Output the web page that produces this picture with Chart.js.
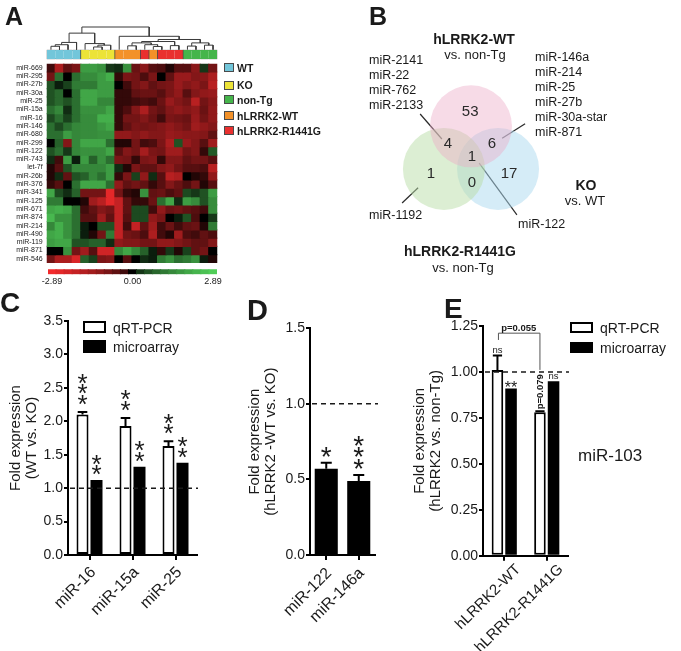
<!DOCTYPE html>
<html><head><meta charset="utf-8"><title>miRNA profiling figure</title>
<script src="https://cdn.jsdelivr.net/npm/chart.js@4.4.1/dist/chart.umd.min.js"></script>
<style>
html,body{margin:0;padding:0;background:#fff}
#fig{position:relative;width:681px;height:651px;overflow:hidden;background:#fff;font-family:"Liberation Sans",Arial,Helvetica,sans-serif;color:#1a1a1a}
#fig canvas{position:absolute;left:0;top:0}
.tx{position:absolute;white-space:nowrap;line-height:1}
.bx{position:absolute;box-sizing:border-box}
</style></head><body>
<div id="fig">
<canvas id="cDendro" width="681" height="651"></canvas>
<canvas id="cGroup" width="681" height="651"></canvas>
<canvas id="cHeat" width="681" height="651"></canvas>
<canvas id="cScale" width="681" height="651"></canvas>
<canvas id="cVenn" width="681" height="651"></canvas>
<canvas id="cC" width="681" height="651"></canvas>
<canvas id="cD" width="681" height="651"></canvas>
<canvas id="cE" width="681" height="651"></canvas>
</div>
<script>
// ---------------- DATA ----------------
// Panel A: heatmap
const heatRows = ['miR-669','miR-295','miR-27b','miR-30a','miR-25','miR-15a','miR-16','miR-146','miR-680','miR-299','miR-122','miR-743','let-7f','miR-26b','miR-376','miR-341','miR-125','miR-671','miR-874','miR-214','miR-490','miR-119','miR-871','miR-546'];
const heatSamples = ['s1','s2','s3','s4','s5','s6','s7','s8','s9','s10','s11','s12','s13','s14','s15','s16','s17','s18','s19','s20'];
const sampleGroups = ['WT','WT','WT','WT','KO','KO','KO','KO','hLRRK2-WT','hLRRK2-WT','hLRRK2-WT','hLRRK2-R1441G','hLRRK2-WT','hLRRK2-R1441G','hLRRK2-R1441G','hLRRK2-R1441G','non-Tg','non-Tg','non-Tg','non-Tg'];
const heatValues = [
 [-0.3,-1.6,-0.6,-0.9, 1.8,1.8,1.6,0.3, 0.2,1.6,-0.7,-1.1, -0.5,-0.4,-0.1,-0.5, -0.5,-1.1,0.3,-0.8],
 [-0.8,1.0,0.0,1.0, 1.5,1.5,1.8,2.2, -0.2,-0.9,-0.8,-0.4, -0.9,0.0,-0.6,-1.3, -1.3,-1.0,-1.1,-1.6],
 [0.6,0.1,0.4,1.2, 1.2,1.2,1.8,1.8, 0.0,-0.3,-0.8,-1.0, -0.6,-0.8,-0.9,-1.3, -1.0,-1.2,-0.9,-1.8],
 [0.6,0.9,0.0,1.0, 2.0,2.0,1.8,1.8, -0.2,-0.2,-0.6,-0.7, -0.7,-0.5,-0.9,-1.2, -0.5,-1.0,-1.2,-1.3],
 [0.6,0.9,0.6,1.0, 2.0,2.0,1.4,1.4, -0.2,-0.2,-0.3,-0.4, -0.3,-0.7,-1.3,-1.0, -0.8,-1.8,-0.8,-1.1],
 [1.0,1.4,0.2,1.0, 1.6,1.6,1.6,2.0, -0.2,-0.4,-1.0,-1.6, -0.8,-0.6,-1.0,-1.2, -1.0,-1.2,-0.7,-1.2],
 [0.5,1.0,0.4,1.0, 1.5,1.5,2.2,2.2, -0.2,-0.8,-0.8,-1.0, -0.7,-0.3,-0.9,-0.8, -0.7,-1.3,-0.8,-1.2],
 [1.0,0.5,1.0,1.4, 1.5,1.5,1.7,2.0, -0.2,-0.6,-0.9,-0.8, -0.9,-1.0,-1.2,-1.0, -0.8,-1.4,-1.2,-1.0],
 [1.0,1.0,1.8,1.4, 1.5,1.5,1.6,1.6, -1.2,-1.2,-1.0,-1.2, -1.0,-1.0,-1.3,-1.2, -1.1,-1.1,-1.0,-0.6],
 [0.0,0.8,-1.0,1.4, 2.0,2.0,2.0,1.0, -0.1,-0.1,-0.8,-0.3, -0.4,-0.9,-1.6,0.6, -1.3,-1.0,-0.5,-1.4],
 [0.6,1.0,0.3,1.4, 1.6,1.6,1.6,2.0, -0.5,-1.0,-0.8,-1.5, -0.9,-0.8,-1.4,-1.4, -0.8,-1.0,-0.2,0.7],
 [0.2,-0.3,1.8,0.1, 1.8,0.8,1.6,1.0, -0.9,-0.8,-0.2,-0.9, -1.0,-0.2,-1.0,-1.0, -0.6,-0.8,-0.8,-0.5],
 [-0.1,-0.5,0.6,1.4, 1.4,1.4,1.4,1.8, 0.2,-0.1,-0.9,-0.6, -0.6,-1.0,-1.2,-0.8, -0.5,-0.5,-0.4,-1.8],
 [-0.1,0.2,-0.6,0.6, 0.8,1.4,1.0,1.8, -0.2,-0.9,0.4,-1.2, 0.2,-0.5,-1.8,-1.6, 0.0,-0.1,-0.2,-1.2],
 [-0.2,-0.5,0.0,1.0, 2.0,2.0,2.0,1.0, -1.2,-0.6,-0.8,-0.6, -0.2,-0.5,-1.0,-0.7, -0.4,-0.8,-0.1,-0.5],
 [2.0,0.5,0.2,0.8, -0.8,-0.8,-0.8,-2.6, -0.8,-0.2,-0.1,1.6, -0.6,-0.7,-0.4,-0.6, 0.5,0.3,0.6,1.8],
 [1.2,1.2,0.0,0.0, -0.1,-1.4,-1.8,-2.6, -2.0,-0.6,-0.2,-0.2, -0.7,1.0,2.0,0.2, 1.8,1.5,0.6,1.5],
 [2.0,2.2,2.0,1.0, -0.3,-0.6,-1.0,-0.8, -2.0,-0.6,0.5,0.5, -0.3,-1.2,-0.7,-0.8, -0.6,-0.5,-0.3,1.5],
 [2.4,1.6,1.6,1.0, -0.5,-0.5,-1.4,-0.6, -2.0,-0.5,0.5,0.5, -1.2,-0.9,0.0,0.1, 0.6,-0.4,0.0,0.3],
 [1.4,2.2,1.6,1.0, 0.1,0.0,0.6,0.6, -2.0,-0.3,-2.0,-0.6, -1.4,-0.3,-0.7,-0.3, -0.6,-0.7,-0.1,1.2],
 [2.0,2.2,1.6,1.0, 0.1,-0.1,-0.8,1.2, -2.0,-0.8,-0.7,-0.4, -1.6,-0.3,-0.1,-1.4, -0.4,-0.3,-0.6,-0.4],
 [1.8,2.0,2.0,0.6, 0.6,0.8,0.8,0.2, -1.2,-1.0,-1.0,-0.8, -0.8,-1.2,-1.2,-1.0, -0.8,-0.6,-0.6,-1.0],
 [0.0,0.0,1.6,-0.8, -1.4,-0.5,-2.2,-2.2, 1.4,2.0,1.4,0.8, 0.1,-0.2,0.3,-0.1, 0.4,-0.6,-0.8,0.0],
 [-0.8,-1.6,-1.6,-2.4, 0.8,0.4,-0.9,-1.0, 0.0,-0.5,0.0,0.2, 0.1,1.2,1.6,1.0, 1.2,1.6,0.1,-0.1]
];
// dendrogram merges: [left node, right node, height] (leaves 0..19, new nodes from 20)
const dendroMerges = [[0,1,0.15],[20,2,0.22],[21,3,0.32],[5,6,0.12],[23,7,0.2],[4,24,0.27],[22,25,0.73],
 [9,10,0.17],[12,13,0.14],[11,28,0.22],[27,29,0.3],[14,15,0.18],[30,31,0.36],[16,17,0.16],[18,19,0.2],[33,34,0.3],[32,35,0.45],[8,36,0.59],[26,37,1.0]];
const groupNames = ['WT','KO','non-Tg','hLRRK2-WT','hLRRK2-R1441G'];
const scaleSteps = [-2.89,-2.60,-2.31,-2.02,-1.73,-1.45,-1.16,-0.87,-0.58,-0.29,0,0.29,0.58,0.87,1.16,1.45,1.73,2.02,2.31,2.60,2.89];
const scaleTickLabels = ['-2.89','0.00','2.89'];

// Panel B: Venn
const vennSets = ['hLRRK2-WT','hLRRK2-R1441G','KO'];
const vennRegions = ['hLRRK2-WT only','hLRRK2-WT & hLRRK2-R1441G','hLRRK2-WT & KO','all three','hLRRK2-R1441G only','hLRRK2-R1441G & KO','KO only'];
const vennCounts = [53,4,6,1,1,0,17];

// Panel C
const cCategories = ['miR-16','miR-15a','miR-25'];
const cQrt = [2.10,1.93,1.63];
const cQrtErr = [0.04,0.12,0.07];
const cArray = [1.12,1.32,1.38];
const cSigQrt = ['***','**','**'];
const cSigArray = ['**','**','**'];
const cTicks = {min:0,max:3.5,step:0.5};

// Panel D
const dCategories = ['miR-122','miR-146a'];
const dValues = [0.57,0.49];
const dErr = [0.04,0.04];
const dSig = ['*','***'];
const dTicks = {min:0,max:1.5,step:0.5};

// Panel E
const eCategories = ['hLRRK2-WT','hLRRK2-R1441G'];
const eQrt = [1.01,0.78];
const eQrtErr = [0.08,0.006];
const eArray = [0.91,0.95];
const eSigQrt = ['ns','p=0.079'];
const eSigArray = ['**','ns'];
const eCompare = 'p=0.055';
const eTicks = {min:0,max:1.25,step:0.25};
const refLine = 1.0;

// ---------------- STYLE / LAYOUT ----------------
const F = '"Liberation Sans", Arial, Helvetica, sans-serif';
const groupColors = {'WT':'#72c6da','KO':'#ece338','non-Tg':'#45b54b','hLRRK2-WT':'#f39129','hLRRK2-R1441G':'#e9302f'};
const vennLayout = {
  centers:[[0,0.7],[-0.66,-0.34],[0.66,-0.34]],
  fills:['rgba(236,170,198,0.42)','rgba(186,222,168,0.5)','rgba(172,218,240,0.5)'],
  regionPos:[[-0.02,1.05],[-0.56,0.27],[0.51,0.27],[0.02,-0.05],[-0.98,-0.46],[0.02,-0.68],[0.93,-0.46]],
  leaders:[[[-1.24,1.0],[-0.71,0.39]],[[-1.68,-1.17],[-1.29,-0.80]],[[0.76,0.41],[1.32,0.76]],[[0.2,-0.2],[1.12,-1.46]]]
};
const W = 681, H = 651;
function area(l,t,r,b){return {left:l,top:t,right:W-r,bottom:H-b};}

Chart.defaults.font.family = F;
Chart.defaults.color = '#1a1a1a';
Chart.defaults.animation = false;
Chart.defaults.responsive = false;
Chart.defaults.maintainAspectRatio = false;
Chart.defaults.events = [];
Chart.defaults.plugins.legend.display = false;
Chart.defaults.plugins.tooltip.enabled = false;

function heatColor(v){
  const t = Math.min(1, Math.abs(v)/2.89), g = Math.pow(t,0.58);
  if (v >= 0) return `rgb(${Math.round(80*g)},${Math.round(205*g)},${Math.round(88*g)})`;
  return `rgb(${Math.round(242*g)},${Math.round(42*g)},${Math.round(44*g)})`;
}
const fig = document.getElementById('fig');
function addText(str,x,y,o={}){
  const d=document.createElement('div'); d.className='tx'; d.textContent=str;
  d.style.left=x+'px'; d.style.top=y+'px'; d.style.fontSize=(o.size||13)+'px';
  if(o.bold) d.style.fontWeight='bold';
  const tx=o.align==='center'?'-50%':(o.align==='right'?'-100%':'0');
  d.style.transform=`translate(${tx},-50%)`; fig.appendChild(d); return d;
}
function addBox(x,y,w,h,fill,bw,bc){
  const d=document.createElement('div'); d.className='bx';
  Object.assign(d.style,{left:x+'px',top:y+'px',width:w+'px',height:h+'px',background:fill,border:`${bw}px solid ${bc}`});
  fig.appendChild(d);
}
const ones = n => Array.from({length:n},()=>1);

// ---------------- PANEL A ----------------
(function(){
  const nodes = heatSamples.map((_,i)=>({x:i+0.5,h:0}));
  const links = [];
  dendroMerges.forEach(([a,b,h])=>{
    const A=nodes[a],B=nodes[b];
    links.push([{x:A.x,y:A.h},{x:A.x,y:h},{x:B.x,y:h},{x:B.x,y:B.h}]);
    nodes.push({x:(A.x+B.x)/2,h});
  });
  new Chart(document.getElementById('cDendro'),{
    type:'scatter',
    data:{datasets:links.map(d=>({data:d,showLine:true,borderColor:'#3a3a3a',borderWidth:1,pointRadius:0,tension:0,clip:false}))},
    options:{layout:{padding:area(46.7,27,217.3,49.7)},
      scales:{x:{type:'linear',display:false,min:0,max:heatSamples.length},y:{display:false,min:0,max:1}}}
  });
})();
new Chart(document.getElementById('cGroup'),{
  type:'bar',
  data:{labels:heatSamples,datasets:[{data:ones(heatSamples.length),
    backgroundColor:sampleGroups.map(g=>groupColors[g]),borderColor:'#4a4a4a',borderSkipped:false,inflateAmount:0.5,
    borderWidth:(ctx)=>{const i=ctx.dataIndex,g=sampleGroups[i],n=sampleGroups.length;
      return {top:0.8,bottom:0.8,left:(i===0||sampleGroups[i-1]!==g)?0.8:0,right:(i===n-1||sampleGroups[i+1]!==g)?0.8:0};},
    barPercentage:1,categoryPercentage:1}]},
  options:{layout:{padding:area(46.7,49.7,217.3,59.3)},
    scales:{x:{display:false},y:{display:false,min:0,max:1}}}
});
new Chart(document.getElementById('cHeat'),{
  type:'bar',
  data:{labels:heatSamples,datasets:heatRows.map((name,r)=>({label:name,data:ones(heatSamples.length),
    backgroundColor:heatValues[r].map(heatColor),borderWidth:0,inflateAmount:0.6,barPercentage:1,categoryPercentage:1,stack:'rows'}))},
  options:{layout:{padding:area(0,63.7,217.3,263)},
    scales:{x:{display:false,stacked:true},
      y:{stacked:true,reverse:true,min:0,max:heatRows.length,
        afterBuildTicks(s){s.ticks=heatRows.map((_,i)=>({value:i+0.5}));},
        ticks:{autoSkip:false,callback:v=>heatRows[Math.floor(v)],font:{size:7},padding:4,color:'#1a1a1a'},
        grid:{display:false,drawTicks:false},border:{display:false},
        afterFit(s){s.width=46.7;}}}}
});
new Chart(document.getElementById('cScale'),{
  type:'bar',
  data:{labels:scaleSteps.map(String),datasets:[{data:ones(scaleSteps.length),backgroundColor:scaleSteps.map(heatColor),
    borderWidth:0,inflateAmount:0.5,barPercentage:1,categoryPercentage:1}]},
  options:{layout:{padding:area(48,269.3,217,274.3+16)},
    scales:{x:{grid:{display:false,drawTicks:false},border:{display:false},
        ticks:{autoSkip:false,maxRotation:0,minRotation:0,padding:2,font:{size:9},color:'#1a1a1a',
          callback:(v,i,t)=>i===0?scaleTickLabels[0]:(i===Math.floor((t.length-1)/2)?scaleTickLabels[1]:(i===t.length-1?scaleTickLabels[2]:''))},
        afterFit(s){s.height=16;}},
      y:{display:false,min:0,max:1}}}
});
const legY=[63,80.7,95.3,111.3,126.3];
groupNames.forEach((g,i)=>{addBox(224,legY[i],9.5,9,groupColors[g],1,'#4a4a4a'); addText(g,237,legY[i]+4.7,{size:10.5,bold:true});});

// ---------------- PANEL B ----------------
new Chart(document.getElementById('cVenn'),{
  type:'scatter',
  data:{datasets:[
    ...vennSets.map((s,i)=>({label:s,data:[{x:vennLayout.centers[i][0],y:vennLayout.centers[i][1]}],
      backgroundColor:vennLayout.fills[i],borderWidth:0,
      pointRadius:(ctx)=>{const sc=ctx.chart.scales.x;return Math.abs(sc.getPixelForValue(1)-sc.getPixelForValue(0));}})),
    ...vennLayout.leaders.map(l=>({data:l.map(p=>({x:p[0],y:p[1]})),showLine:true,borderColor:'#2a2a2a',borderWidth:1.2,pointRadius:0}))
  ]},
  options:{layout:{padding:area(360,20,640,290)},
    scales:{x:{type:'linear',display:false,min:-2.707,max:4.122},y:{display:false,min:-3.293,max:3.293}}},
  plugins:[{id:'vennCounts',afterDatasetsDraw(chart){
    const ctx=chart.ctx,sx=chart.scales.x,sy=chart.scales.y;
    ctx.save();ctx.font=`15px ${F}`;ctx.fillStyle='#2a2a2a';ctx.textAlign='center';ctx.textBaseline='middle';
    vennCounts.forEach((c,i)=>{const p=vennLayout.regionPos[i];ctx.fillText(String(c),sx.getPixelForValue(p[0]),sy.getPixelForValue(p[1]));});
    ctx.restore();}}]
});
addText('hLRRK2-WT',474,39,{size:14,bold:true,align:'center'});
addText('vs. non-Tg',475,54,{size:13,align:'center'});
addText('KO',586,185,{size:14,bold:true,align:'center'});
addText('vs. WT',585,200,{size:13,align:'center'});
addText('hLRRK2-R1441G',460,251,{size:14,bold:true,align:'center'});
addText('vs. non-Tg',463,267,{size:13,align:'center'});
['miR-2141','miR-22','miR-762','miR-2133'].forEach((t,i)=>addText(t,369,60+i*15,{size:12.5}));
['miR-146a','miR-214','miR-25','miR-27b','miR-30a-star','miR-871'].forEach((t,i)=>addText(t,535,57+i*15,{size:12.5}));
addText('miR-1192',369,215,{size:12.5});
addText('miR-122',518,224,{size:12.5});

// ---------------- helpers for bar panels ----------------
function xAxisCat(height,size,pad,shift){return {type:'category',offset:true,
  grid:{display:true,offset:false,drawOnChartArea:false,drawTicks:true,tickLength:5,color:'#000',lineWidth:2},
  border:{display:true,color:'#000',width:2},
  ticks:{autoSkip:false,minRotation:45,maxRotation:45,padding:pad,labelOffset:shift,font:{size:size},color:'#1a1a1a'},
  afterFit(s){s.height=height;}};}
function yAxisLin(t,dec,title,width){return {type:'linear',min:t.min,max:t.max,
  ticks:{stepSize:t.step,callback:v=>Number(v).toFixed(dec),font:{size:14},padding:1,color:'#1a1a1a'},
  grid:{display:true,drawOnChartArea:false,drawTicks:true,tickLength:4,color:'#000',lineWidth:2},
  border:{display:true,color:'#000',width:2},
  title:{display:true,text:title,font:{size:15,lineHeight:1.07},padding:0,color:'#1a1a1a'},
  afterFit(s){s.width=width;}};}
function drawDashed(chart,val,extra){
  const ctx=chart.ctx,y=chart.scales.y.getPixelForValue(val),a=chart.chartArea;
  ctx.save();ctx.strokeStyle='#1a1a1a';ctx.lineWidth=1.5;ctx.setLineDash([5,4]);
  ctx.beginPath();ctx.moveTo(a.left+2,y);ctx.lineTo(a.right+extra,y);ctx.stroke();ctx.restore();
}
function drawErr(chart,el,val,err){
  const ctx=chart.ctx,ys=chart.scales.y,top=ys.getPixelForValue(val+err),cap=Math.min(el.width*0.4,5.5);
  ctx.save();ctx.strokeStyle='#000';ctx.lineWidth=2;ctx.beginPath();
  ctx.moveTo(el.x,ys.getPixelForValue(val));ctx.lineTo(el.x,top);
  ctx.moveTo(el.x-cap,top);ctx.lineTo(el.x+cap,top);ctx.stroke();ctx.restore();
  return top;
}
function drawStarStack(ctx,str,x,cy0,size,step){
  ctx.save();ctx.font=`${size}px ${F}`;ctx.fillStyle='#1a1a1a';ctx.textAlign='center';ctx.textBaseline='alphabetic';
  const m=ctx.measureText('*'),off=(m.actualBoundingBoxAscent-m.actualBoundingBoxDescent)/2;
  for(let k=0;k<str.length;k++) ctx.fillText('*',x,cy0-k*step+off);
  ctx.restore();
}

// ---------------- PANEL C ----------------
new Chart(document.getElementById('cC'),{
  type:'bar',
  data:{labels:cCategories,datasets:[
    {label:'qRT-PCR',data:cQrt,backgroundColor:'#fff',borderColor:'#000',borderWidth:2,borderSkipped:false},
    {label:'microarray',data:cArray,backgroundColor:'#000',borderWidth:0}]},
  options:{datasets:{bar:{categoryPercentage:0.65,barPercentage:0.86}},
    layout:{padding:area(8,321,197,H)},
    scales:{x:xAxisCat(H-555,16,3,4),y:yAxisLin(cTicks,1,['Fold expression','(WT vs. KO)'],60)}},
  plugins:[{id:'cExtras',afterDatasetsDraw(chart){
    const ctx=chart.ctx,ys=chart.scales.y;
    drawDashed(chart,refLine,1);
    const m0=chart.getDatasetMeta(0).data,m1=chart.getDatasetMeta(1).data;
    m0.forEach((el,i)=>{const top=drawErr(chart,el,cQrt[i],cQrtErr[i]);drawStarStack(ctx,cSigQrt[i],el.x,top-12,26,10.5);});
    m1.forEach((el,i)=>{drawStarStack(ctx,cSigArray[i],el.x,ys.getPixelForValue(cArray[i])-10,26,10.5);});
  }}]
});
addBox(83,321,23,12,'#fff',2,'#000'); addText('qRT-PCR',113,327.5,{size:14});
addBox(83,340,23,13,'#000',0,'#000'); addText('microarray',113,347,{size:14});

// ---------------- PANEL D ----------------
new Chart(document.getElementById('cD'),{
  type:'bar',
  data:{labels:dCategories,datasets:[{label:'hLRRK2-WT vs. KO',data:dValues,backgroundColor:'#000',borderWidth:0}]},
  options:{datasets:{bar:{categoryPercentage:0.71,barPercentage:1}},
    layout:{padding:area(247,328.3,375,H)},
    scales:{x:xAxisCat(H-555,16,4,3),y:yAxisLin(dTicks,1,['Fold expression','(hLRRK2 -WT vs. KO)'],63)}},
  plugins:[{id:'dExtras',afterDatasetsDraw(chart){
    const ctx=chart.ctx;
    drawDashed(chart,refLine,3);
    chart.getDatasetMeta(0).data.forEach((el,i)=>{const top=drawErr(chart,el,dValues[i],dErr[i]);drawStarStack(ctx,dSig[i],el.x,top-11,28,11.5);});
  }}]
});

// ---------------- PANEL E ----------------
new Chart(document.getElementById('cE'),{
  type:'bar',
  data:{labels:eCategories,datasets:[
    {label:'qRT-PCR',data:eQrt,backgroundColor:'#fff',borderColor:'#000',borderWidth:2,borderSkipped:false},
    {label:'microarray',data:eArray,backgroundColor:'#000',borderWidth:0}]},
  options:{datasets:{bar:{categoryPercentage:0.64,barPercentage:0.85}},
    layout:{padding:area(412,326,568,H)},
    scales:{x:xAxisCat(H-555.7,15,0,14),y:yAxisLin(eTicks,2,['Fold expression','(hLRRK2 vs. non-Tg)'],71)}},
  plugins:[{id:'eExtras',afterDatasetsDraw(chart){
    const ctx=chart.ctx,ys=chart.scales.y;
    drawDashed(chart,refLine,1);
    const m0=chart.getDatasetMeta(0).data,m1=chart.getDatasetMeta(1).data;
    const tops=m0.map((el,i)=>drawErr(chart,el,eQrt[i],eQrtErr[i]));
    function small(txt,x,base,bold,rot){ctx.save();ctx.fillStyle='#1a1a1a';ctx.font=`${bold?'bold ':''}9.5px ${F}`;
      if(rot){ctx.translate(x,base);ctx.rotate(-Math.PI/2);ctx.textAlign='left';ctx.textBaseline='middle';ctx.fillText(txt,0,0);}
      else{ctx.textAlign='center';ctx.textBaseline='alphabetic';ctx.fillText(txt,x,base);}ctx.restore();}
    function sig(txt,x,top){
      if(txt.startsWith('p=')) small(txt,x,top-2,true,true);
      else if(txt==='ns') small(txt,x,top-2.5,false,false);
      else {ctx.save();ctx.font=`16px ${F}`;ctx.fillStyle='#1a1a1a';ctx.textAlign='center';ctx.textBaseline='alphabetic';
        const m=ctx.measureText(txt),off=(m.actualBoundingBoxAscent-m.actualBoundingBoxDescent)/2;ctx.fillText(txt,x,top-4+off);ctx.restore();}
    }
    m0.forEach((el,i)=>sig(eSigQrt[i],el.x,tops[i]));
    m1.forEach((el,i)=>sig(eSigArray[i],el.x,ys.getPixelForValue(eArray[i])));
    const lvl=ys.getPixelForValue(1.211),l=ys.getPixelForValue(1.174),r=ys.getPixelForValue(1.011);
    ctx.save();ctx.strokeStyle='#555';ctx.lineWidth=1;ctx.beginPath();
    ctx.moveTo(m0[0].x+1,l);ctx.lineTo(m0[0].x+1,lvl);ctx.lineTo(m0[1].x,lvl);ctx.lineTo(m0[1].x,r);ctx.stroke();ctx.restore();
    small(eCompare,(m0[0].x+m0[1].x)/2,lvl-2.5,true,false);
  }}]
});
addBox(570,322,23,11,'#fff',2,'#000'); addText('qRT-PCR',600,328,{size:14});
addBox(570,342,23,11,'#000',0,'#000'); addText('microarray',600,348,{size:14});
addText('miR-103',578,455,{size:17});

// panel letters
addText('A',5,16,{size:25,bold:true});
addText('B',369,16,{size:25,bold:true});
addText('C',0,303,{size:28,bold:true});
addText('D',247,310,{size:29,bold:true});
addText('E',444,309,{size:28,bold:true});
</script>
</body></html>
